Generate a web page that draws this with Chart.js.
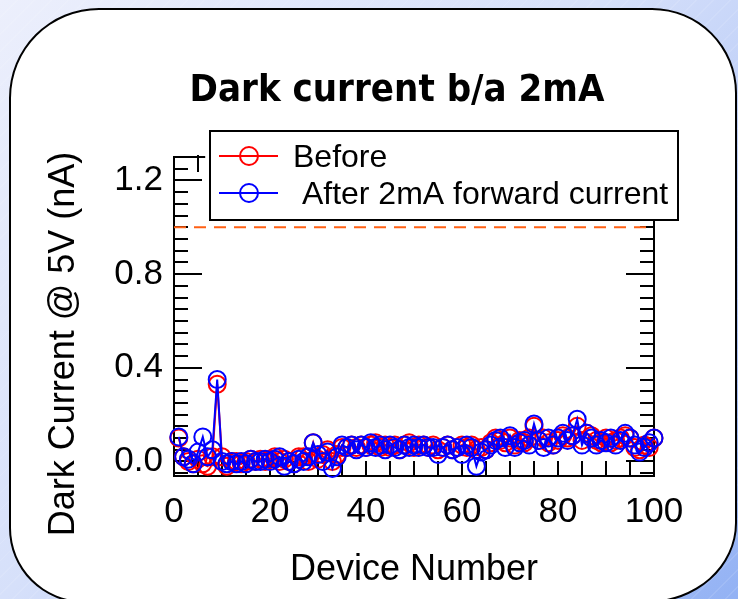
<!DOCTYPE html>
<html lang="en">
<head>
<meta charset="UTF-8">
<title>Dark current b/a 2mA</title>
<style>
  html, body { margin: 0; padding: 0; }
  body {
    width: 738px;
    height: 599px;
    overflow: hidden;
    position: relative;
    background:
      repeating-linear-gradient(135deg, rgba(255,255,255,0.10) 0 1px, rgba(255,255,255,0) 1px 12px),
      linear-gradient(135deg, #eceffc 0%, #d6e0fa 45%, #adc3f6 80%, #93b2f4 100%);
  }
  .frame {
    position: absolute;
    left: 9px;
    top: 8px;
    width: 724px;
    height: 591px;
    background: #fff;
    border: 2px solid #000;
    border-radius: 90px 85px 90px 75px / 90px 85px 80px 75px;
  }
  #wrap { position: absolute; left: 0; top: 0; width: 738px; height: 599px; }
</style>
</head>
<body>
<div class="frame"></div>
<div id="wrap"><canvas id="darkChart" width="738" height="599"></canvas></div>

<script src="https://cdn.jsdelivr.net/npm/chart.js"></script>
<script>
// device numbers 1..100
const devices = [];
for (let n = 1; n <= 100; n++) devices.push(n);

// dark current at 5V (nA), before stress
const before = [
  0.10, 0.02, 0.00, -0.01, 0.01, -0.01, -0.02, 0.02, 0.33, 0.02,
  -0.02, 0.00, 0.00, -0.01, 0.00, 0.01, 0.00, 0.01, 0.00, 0.01,
  0.02, 0.00, 0.01, 0.00, -0.01, 0.02, 0.02, 0.00, 0.08, 0.01,
  0.03, 0.05, 0.00, 0.03, 0.06, 0.06, 0.07, 0.06, 0.07, 0.06,
  0.07, 0.08, 0.06, 0.07, 0.06, 0.07, 0.05, 0.07, 0.08, 0.06,
  0.07, 0.07, 0.06, 0.07, 0.05, 0.06, 0.07, 0.05, 0.06, 0.07,
  0.06, 0.07, 0.05, 0.06, 0.05, 0.08, 0.10, 0.09, 0.08, 0.10,
  0.07, 0.09, 0.08, 0.10, 0.15, 0.09, 0.10, 0.08, 0.07, 0.09,
  0.11, 0.10, 0.11, 0.15, 0.09, 0.12, 0.11, 0.09, 0.08, 0.10,
  0.08, 0.09, 0.10, 0.11, 0.10, 0.06, 0.05, 0.07, 0.06, 0.10
];

// dark current at 5V (nA), after 2mA forward current
const after = [
  0.105, 0.02, 0.01, -0.01, 0.04, 0.105, 0.02, 0.05, 0.35, 0.00,
  -0.01, 0.00, -0.01, 0.00, -0.01, 0.01, 0.00, 0.00, 0.01, 0.00,
  0.01, 0.02, -0.02, 0.00, -0.01, 0.01, 0.00, 0.02, 0.08, 0.03,
  0.00, 0.04, -0.03, 0.02, 0.07, 0.06, 0.07, 0.05, 0.07, 0.06,
  0.08, 0.06, 0.07, 0.05, 0.07, 0.06, 0.05, 0.07, 0.06, 0.07,
  0.06, 0.07, 0.06, 0.06, 0.03, 0.06, 0.07, 0.05, 0.06, 0.03,
  0.07, 0.06, -0.02, 0.04, 0.05, 0.07, 0.09, 0.10, 0.06, 0.11,
  0.06, 0.08, 0.09, 0.07, 0.16, 0.09, 0.06, 0.10, 0.07, 0.10,
  0.12, 0.09, 0.11, 0.18, 0.07, 0.12, 0.10, 0.07, 0.09, 0.08,
  0.10, 0.07, 0.09, 0.12, 0.10, 0.07, 0.04, 0.06, 0.08, 0.10
];

// spec limit (nA)
const limit = 1.0;

const seriesLabels = ['Before', ' After 2mA forward current'];
const seriesColors = ['#ff0000', '#0000ff'];

const FONT = '"Liberation Sans", Arial, sans-serif';

function toPoints(vals) {
  return vals.map((v, i) => ({ x: devices[i], y: v }));
}

// inward ticks, right axis, titles and the boxed legend
const decor = {
  id: 'decor',
  beforeDatasetsDraw(chart) {
    const { ctx, chartArea: a, scales: { x, y } } = chart;
    ctx.save();
    ctx.strokeStyle = '#000';
    ctx.lineWidth = 2;
    ctx.beginPath();
    // left axis ticks every 0.05, long ones on labelled values
    for (let k = -1; k <= 26; k++) {
      const py = Math.round(y.getPixelForValue(k * 0.05));
      const len = k % 8 === 0 ? 28 : 14;
      ctx.moveTo(a.left, py);
      ctx.lineTo(a.left + len, py);
    }
    // right axis only runs up to the limit line
    const rTop = y.getPixelForValue(1.05);
    ctx.moveTo(a.right, rTop);
    ctx.lineTo(a.right, a.bottom);
    for (let k = -1; k <= 21; k++) {
      const py = Math.round(y.getPixelForValue(k * 0.05));
      const len = k % 8 === 0 ? 28 : 14;
      ctx.moveTo(a.right, py);
      ctx.lineTo(a.right - len, py);
    }
    // bottom ticks every 5 devices
    for (let d = 0; d <= 100; d += 5) {
      const px = Math.round(x.getPixelForValue(d));
      ctx.moveTo(px, a.bottom);
      ctx.lineTo(px, a.bottom - 15);
    }
    // short piece of top axis left of the legend
    ctx.moveTo(a.left, a.top);
    ctx.lineTo(x.getPixelForValue(6.5), a.top);
    const t5 = Math.round(x.getPixelForValue(5));
    ctx.moveTo(t5, a.top - 2);
    ctx.lineTo(t5, a.top + 15);
    ctx.stroke();
    ctx.restore();
  },
  afterDraw(chart) {
    const { ctx } = chart;
    ctx.save();
    ctx.fillStyle = '#000';

    // main title
    ctx.font = 'bold 38px "DejaVu Sans Condensed", "DejaVu Sans", sans-serif';
    ctx.textAlign = 'center';
    ctx.textBaseline = 'alphabetic';
    ctx.fillText('Dark current b/a 2mA', 397, 101);

    // y axis title
    ctx.save();
    ctx.translate(74, 344);
    ctx.rotate(-Math.PI / 2);
    ctx.font = '36px ' + FONT;
    ctx.fillText('Dark Current @ 5V (nA)', 0, 0);
    ctx.restore();

    // legend box
    const box = { l: 210, t: 131, r: 678, b: 220 };
    ctx.fillStyle = '#fff';
    ctx.fillRect(box.l, box.t, box.r - box.l, box.b - box.t);
    ctx.strokeStyle = '#000';
    ctx.lineWidth = 2;
    ctx.strokeRect(box.l, box.t, box.r - box.l, box.b - box.t);

    const rows = chart.data.datasets.filter(ds => !ds.hideInLegend);
    const rowY = [156, 193];
    ctx.font = '32px ' + FONT;
    ctx.textAlign = 'left';
    rows.forEach((ds, i) => {
      const cy = rowY[i];
      ctx.strokeStyle = ds.borderColor;
      ctx.lineWidth = 2;
      ctx.beginPath();
      ctx.moveTo(219, cy);
      ctx.lineTo(278, cy);
      ctx.stroke();
      ctx.beginPath();
      ctx.arc(249, cy, 9, 0, Math.PI * 2);
      ctx.stroke();
      ctx.fillStyle = '#000';
      ctx.fillText(ds.label, 293, cy + 11);
    });
    ctx.restore();
  }
};

new Chart(document.getElementById('darkChart'), {
  type: 'line',
  data: {
    datasets: [
      {
        label: seriesLabels[0],
        data: toPoints(before),
        borderColor: seriesColors[0],
        backgroundColor: 'rgba(0,0,0,0)',
        borderWidth: 2,
        pointRadius: 8.5,
        pointBorderWidth: 2,
        pointBackgroundColor: 'rgba(0,0,0,0)',
        pointBorderColor: seriesColors[0],
        tension: 0,
        clip: false,
        order: 2
      },
      {
        label: seriesLabels[1],
        data: toPoints(after),
        borderColor: seriesColors[1],
        backgroundColor: 'rgba(0,0,0,0)',
        borderWidth: 2,
        pointRadius: 8.5,
        pointBorderWidth: 2,
        pointBackgroundColor: 'rgba(0,0,0,0)',
        pointBorderColor: seriesColors[1],
        tension: 0,
        clip: false,
        order: 1
      },
      {
        label: 'limit',
        hideInLegend: true,
        data: [{ x: 0, y: limit }, { x: 100, y: limit }],
        borderColor: '#ff6014',
        borderWidth: 2,
        borderDash: [12, 8],
        pointRadius: 0,
        order: 3
      }
    ]
  },
  options: {
    responsive: false,
    animation: false,
    devicePixelRatio: 1,
    layout: { padding: { left: 0, right: 84, top: 157, bottom: 0 } },
    plugins: {
      legend: { display: false },
      title: { display: false },
      tooltip: { enabled: false }
    },
    scales: {
      x: {
        type: 'linear',
        min: 0,
        max: 100,
        grid: { display: false, drawTicks: false },
        border: { display: true, color: '#000', width: 2 },
        ticks: {
          stepSize: 20,
          padding: 15,
          color: '#000',
          maxRotation: 0,
          font: { family: FONT, size: 35 }
        },
        title: {
          display: true,
          text: 'Device Number',
          color: '#000',
          font: { family: FONT, size: 36 },
          padding: { top: 0, bottom: 7 }
        },
        afterFit(scale) { scale.height = 123; }
      },
      y: {
        type: 'linear',
        min: -0.062,
        max: 1.3,
        grid: { display: false, drawTicks: false },
        border: { display: true, color: '#000', width: 2 },
        ticks: {
          stepSize: 0.4,
          includeBounds: false,
          padding: 11,
          color: '#000',
          font: { family: FONT, size: 35 },
          callback: v => v.toFixed(1)
        },
        afterFit(scale) { scale.width = 174; }
      }
    }
  },
  plugins: [decor]
});
</script>
</body>
</html>
